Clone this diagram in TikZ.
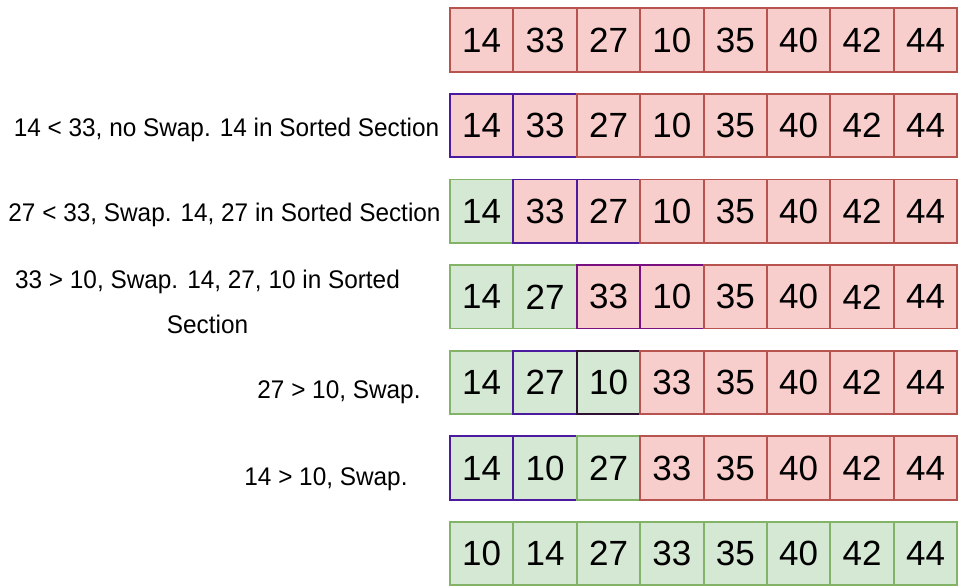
\documentclass[tikz,border=0pt]{standalone}
\usepackage{fontspec}
\setmainfont{Liberation Sans}
\newfontfamily\labfont[FakeStretch=0.955]{Liberation Sans}
\definecolor{rfill}{HTML}{F8CECC}
\definecolor{rdraw}{HTML}{B85450}
\definecolor{gfill}{HTML}{D5E8D4}
\definecolor{gdraw}{HTML}{82B366}
\definecolor{bdraw}{HTML}{4C1A9E}
\definecolor{mdraw}{HTML}{7A1080}
\definecolor{ddraw}{HTML}{2E1030}
\tikzset{
  cell/.style={minimum width=63.4pt, minimum height=63.4pt, inner sep=0pt,
    font=\fontsize{35}{40}\selectfont, line width=1.9pt},
  R/.style={cell, fill=rfill, draw=rdraw},
  G/.style={cell, fill=gfill, draw=gdraw},
  RB/.style={cell, fill=rfill, draw=bdraw},
  RM/.style={cell, fill=rfill, draw=mdraw},
  GB/.style={cell, fill=gfill, draw=bdraw},
  GD/.style={cell, fill=gfill, draw=ddraw},
  lab/.style={anchor=base, inner sep=0pt, font=\labfont\fontsize{25.5}{30}\selectfont}
}
\begin{document}
\begin{tikzpicture}[x=1pt, y=-1pt]
\useasboundingbox (0,0) rectangle (958,586);
\clip (0,0) rectangle (958,586);
\foreach \row [count=\i] in {
  {14/R,33/R,27/R,10/R,35/R,40/R,42/R,44/R},
  {14/RB,33/RB,27/R,10/R,35/R,40/R,42/R,44/R},
  {14/G,33/RB,27/RB,10/R,35/R,40/R,42/R,44/R},
  {14/G,27/G,33/RM,10/RM,35/R,40/R,42/R,44/R},
  {14/G,27/GB,10/GD,33/R,35/R,40/R,42/R,44/R},
  {14/GB,10/GB,27/G,33/R,35/R,40/R,42/R,44/R},
  {10/G,14/G,27/G,33/G,35/G,40/G,42/G,44/G}}{
  \foreach \v/\s [count=\j] in \row {
    \node[\s] (r\i-\j) at ({481.7+(\j-1)*63.4},{40+(\i-1)*85.6}) {\v};
  }
}
\node[lab] (lab1) at (226.5,136.5) {14 < 33, no Swap. 14 in Sorted Section};
\node[lab] (lab2) at (224.5,221.5) {27 < 33, Swap. 14, 27 in Sorted Section};
\node[lab] (lab3a) at (207.5,288) {33 > 10, Swap. 14, 27, 10 in Sorted};
\node[lab] (lab3b) at (207.5,333) {Section};
\node[lab] (lab4) at (339,398.5) {27 > 10, Swap.};
\node[lab] (lab5) at (326,485) {14 > 10, Swap.};
\end{tikzpicture}
\end{document}
